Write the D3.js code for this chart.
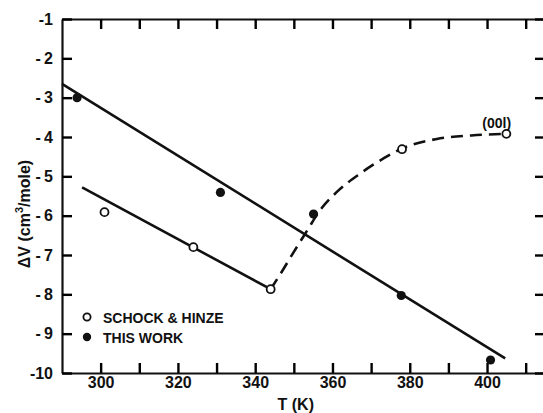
<!DOCTYPE html>
<html>
<head>
<meta charset="utf-8">
<script src="https://cdn.jsdelivr.net/npm/d3@7"></script>
<style>
    body { margin: 0; background: #fff; }
    svg { display: block; }
    text { font-family: "Liberation Sans", "DejaVu Sans", sans-serif; fill: #111; }
    .tick line { stroke: #000; stroke-width: 2.4px; }
</style>
</head>
<body>
<script>
// Schock & Hinze (open circles)
var schockT = [301, 324, 344, 378, 405];
var schockV = [-5.91, -6.80, -7.87, -4.31, -3.92];

// This work (filled circles)
var workT = [293.9, 331, 355.1, 377.8, 400.9];
var workV = [-3.0, -5.41, -5.96, -8.03, -9.67];

// straight fit through this work
var fitT = [290, 404.7];
var fitV = [-2.65, -9.63];

// straight line through Schock & Hinze, low temperature
var lowT = [295.2, 344];
var lowV = [-5.28, -7.87];

// dashed curve, high temperature branch
var dashT = [344, 346.6, 350, 353.5, 356.5, 361.2, 367.3, 373.3, 377.6, 387, 396, 405];
var dashV = [-7.87, -7.47, -6.92, -6.37, -5.90, -5.39, -4.92, -4.54, -4.31, -4.05, -3.96, -3.92];

var xTicks = [300, 310, 320, 330, 340, 350, 360, 370, 380, 390, 400, 410];
var xLabels = [300, 320, 340, 360, 380, 400];
var yTicks = [-1, -2, -3, -4, -5, -6, -7, -8, -9, -10];

var legendLabels = ["SCHOCK & HINZE", "THIS WORK"];

var width = 543, height = 413;
var plotL = 62, plotT = 19, plotR = 545, plotB = 373;

var svg = d3.select("body").append("svg")
    .attr("width", width)
    .attr("height", height);

var x = d3.scaleLinear().domain([290, 415]).range([plotL, plotR]);
var y = d3.scaleLinear().domain([-10, -1]).range([plotB, plotT]);

var tickLen = 10;
var ink = "#111";

// axes with inward ticks
var axBottom = svg.append("g")
    .attr("transform", "translate(0," + plotB + ")")
    .call(d3.axisBottom(x).tickValues(xTicks).tickSizeInner(-tickLen).tickSizeOuter(0)
        .tickPadding(4)
        .tickFormat(function (d) { return xLabels.indexOf(d) >= 0 ? d : ""; }));
var axTop = svg.append("g")
    .attr("transform", "translate(0," + plotT + ")")
    .call(d3.axisTop(x).tickValues(xTicks).tickSizeInner(-tickLen).tickSizeOuter(0).tickFormat(""));
var axLeft = svg.append("g")
    .attr("transform", "translate(" + plotL + ",0)")
    .call(d3.axisLeft(y).tickValues(yTicks).tickSizeInner(-tickLen).tickSizeOuter(0)
        .tickPadding(9)
        .tickFormat(function (d) { return d === -1 || d === -10 ? "-" + Math.abs(d) : "-\u2009" + Math.abs(d); }));
var axRight = svg.append("g")
    .attr("transform", "translate(" + plotR + ",0)")
    .call(d3.axisRight(y).tickValues(yTicks).tickSizeInner(-tickLen).tickSizeOuter(0).tickFormat(""));

[axBottom, axTop, axLeft, axRight].forEach(function (g) {
    g.select(".domain")
        .attr("stroke", ink).attr("stroke-width", 2.2);
    g.selectAll(".tick line")
        .attr("stroke", "#000").attr("stroke-width", 2.4);
    g.selectAll(".tick text")
        .style("font-family", '"Liberation Sans", sans-serif')
        .style("font-weight", "bold")
        .attr("font-size", 16).style("fill", ink);
});

// axis titles
svg.append("text")
    .attr("x", x(350.5)).attr("y", 410)
    .attr("text-anchor", "middle")
    .attr("font-size", 16)
    .attr("font-weight", "bold")
    .text("T (K)");

var yTitle = svg.append("text")
    .attr("transform", "translate(30," + ((plotT + plotB) / 2 + 18) + ") rotate(-90)")
    .attr("text-anchor", "middle")
    .attr("font-size", 16)
    .attr("font-weight", "bold");
yTitle.append("tspan").text("\u0394V  (cm");
yTitle.append("tspan").attr("font-size", 11).attr("dy", -7).text("3");
yTitle.append("tspan").attr("dy", 7).text("/mole)");

var line = d3.line()
    .x(function (d) { return x(d[0]); })
    .y(function (d) { return y(d[1]); });

function pairs(a, b) {
    return a.map(function (v, i) { return [v, b[i]]; });
}

// solid fit lines
svg.append("path")
    .datum(pairs(fitT, fitV))
    .attr("d", line)
    .attr("fill", "none").attr("stroke", ink).attr("stroke-width", 2.6);

svg.append("path")
    .datum(pairs(lowT, lowV))
    .attr("d", line)
    .attr("fill", "none").attr("stroke", ink).attr("stroke-width", 2.6);

// dashed curve
svg.append("path")
    .datum(pairs(dashT, dashV))
    .attr("d", line.curve(d3.curveMonotoneX))
    .attr("fill", "none").attr("stroke", ink).attr("stroke-width", 2.6)
    .attr("stroke-dasharray", "12,7");

// points
svg.append("g").selectAll("circle")
    .data(pairs(schockT, schockV))
    .enter().append("circle")
    .attr("cx", function (d) { return x(d[0]); })
    .attr("cy", function (d) { return y(d[1]); })
    .attr("r", 4)
    .attr("fill", "#fff").attr("stroke", ink).attr("stroke-width", 1.8);

svg.append("g").selectAll("circle")
    .data(pairs(workT, workV))
    .enter().append("circle")
    .attr("cx", function (d) { return x(d[0]); })
    .attr("cy", function (d) { return y(d[1]); })
    .attr("r", 4.6)
    .attr("fill", ink);

// (001) label
svg.append("text")
    .attr("x", x(402.5)).attr("y", y(-3.92) - 6)
    .attr("text-anchor", "middle")
    .attr("font-size", 14)
    .attr("font-weight", "bold")
    .text("(00l)");

// legend
var legend = svg.append("g").attr("transform", "translate(87,317)");
legend.append("circle").attr("cx", 0).attr("cy", 0).attr("r", 3.6)
    .attr("fill", "#fff").attr("stroke", ink).attr("stroke-width", 1.8);
legend.append("circle").attr("cx", 0).attr("cy", 20).attr("r", 4.2)
    .attr("fill", ink);
legend.selectAll("text")
    .data(legendLabels)
    .enter().append("text")
    .attr("x", 16)
    .attr("y", function (d, i) { return i * 20 + 5.5; })
    .attr("font-size", 14)
    .attr("font-weight", "bold")
    .text(function (d) { return d; });
</script>
</body>
</html>
